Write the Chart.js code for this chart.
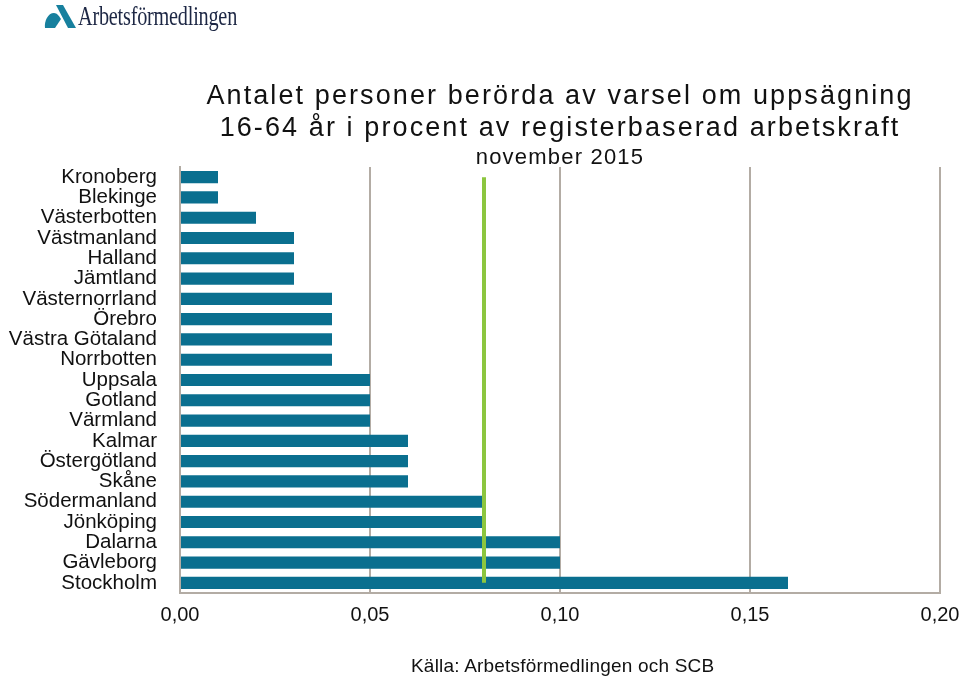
<!DOCTYPE html>
<html>
<head>
<meta charset="utf-8">
<script src="https://cdn.jsdelivr.net/npm/chart.js@4"></script>
<style>
  body { margin: 0; background: #fff; font-family: "Liberation Sans", Arial, sans-serif; }
  #wrap { position: relative; width: 960px; height: 678px; }
  #logo { position: absolute; left: 44px; top: 3px; height: 30px; }
  #logo svg { position: absolute; left: 0; top: 2px; }
  #logo span { position: absolute; left: 34px; top: -2px; font-family: "Liberation Serif", serif; font-size: 27px;
    color: #1d2744; transform: scaleX(0.75); transform-origin: left top; white-space: nowrap; letter-spacing: -0.3px; }
  .title { position: absolute; left: 180px; width: 760px; text-align: center; color: #111; white-space: nowrap; }
  #t1 { top: 80px; font-size: 27px; letter-spacing: 2.1px; }
  #t2 { top: 112px; font-size: 27px; letter-spacing: 2.1px; }
  #t3 { top: 144px; font-size: 22px; letter-spacing: 1.2px; }
  #source { position: absolute; left: 411px; top: 655px; font-size: 19px; letter-spacing: 0.2px; color: #111; white-space: nowrap; }
  canvas { position: absolute; left: 0; top: 0; }
</style>
</head>
<body>
<div id="wrap">
  <canvas id="chart" width="960" height="678"></canvas>
  <div id="logo">
    <svg width="32" height="23" viewBox="0 0 32 23">
      <path d="M1 23 C0 16 4 8 10 8 C13 8 15 11 17 14 L11 23 Z" fill="#17809e"/>
      <path d="M12 0 L19 0 L32 23 L24 23 Z" fill="#17809e"/>
    </svg>
    <span>Arbetsförmedlingen</span>
  </div>
  <div class="title" id="t1">Antalet personer berörda av varsel om uppsägning</div>
  <div class="title" id="t2">16-64 år i procent av registerbaserad arbetskraft</div>
  <div class="title" id="t3">november 2015</div>
  <div id="source">Källa: Arbetsförmedlingen och SCB</div>
</div>
<script>
const regions = ['Kronoberg', 'Blekinge', 'Västerbotten', 'Västmanland', 'Halland', 'Jämtland',
  'Västernorrland', 'Örebro', 'Västra Götaland', 'Norrbotten', 'Uppsala', 'Gotland', 'Värmland',
  'Kalmar', 'Östergötland', 'Skåne', 'Södermanland', 'Jönköping', 'Dalarna', 'Gävleborg', 'Stockholm'];
const shares = [0.01, 0.01, 0.02, 0.03, 0.03, 0.03, 0.04, 0.04, 0.04, 0.04, 0.05, 0.05, 0.05,
  0.06, 0.06, 0.06, 0.08, 0.08, 0.10, 0.10, 0.16];
const riket = 0.08;
const xTicks = [0, 0.05, 0.10, 0.15, 0.20];

const gridColor = '#b3aca4';

new Chart(document.getElementById('chart'), {
    type: 'bar',
    data: {
        labels: regions,
        datasets: [{
            label: 'Län',
            data: shares,
            backgroundColor: '#0a6f8f',
            borderWidth: 0,
            barPercentage: 0.6,
            categoryPercentage: 1,
            order: 2
        }, {
            type: 'line',
            label: 'Riket',
            indexAxis: 'y',
            data: regions.map(() => riket),
            borderColor: '#8cc63f',
            borderWidth: 4,
            pointRadius: 0,
            fill: false,
            order: 1
        }]
    },
    options: {
        indexAxis: 'y',
        responsive: false,
        animation: false,
        layout: {
            padding: { top: 167, right: 20, bottom: 45, left: 0 }
        },
        plugins: {
            legend: { display: false },
            tooltip: { enabled: false }
        },
        scales: {
            x: {
                min: 0,
                max: 0.2,
                afterBuildTicks: (scale) => { scale.ticks = xTicks.map(v => ({ value: v })); },
                afterFit: (scale) => {
                    scale.height = 40;
                    scale.paddingLeft = 0;
                    scale.paddingRight = 0;
                },
                ticks: {
                    color: '#111',
                    font: { family: 'Liberation Sans', size: 20 },
                    padding: 10,
                    callback: (v) => v.toFixed(2).replace('.', ',')
                },
                grid: {
                    color: (ctx) => ctx.tick && ctx.tick.value === 0 ? 'rgba(0,0,0,0)' : gridColor,
                    lineWidth: 2,
                    drawTicks: false
                },
                border: { display: true, color: gridColor, width: 2 }
            },
            y: {
                afterFit: (scale) => { scale.width = 180; },
                ticks: {
                    color: '#111',
                    font: { family: 'Liberation Sans', size: 20.5 },
                    padding: 23,
                    autoSkip: false
                },
                grid: { display: false, drawTicks: false },
                border: { display: true, color: gridColor, width: 2 }
            }
        }
    }
});
</script>
</body>
</html>
